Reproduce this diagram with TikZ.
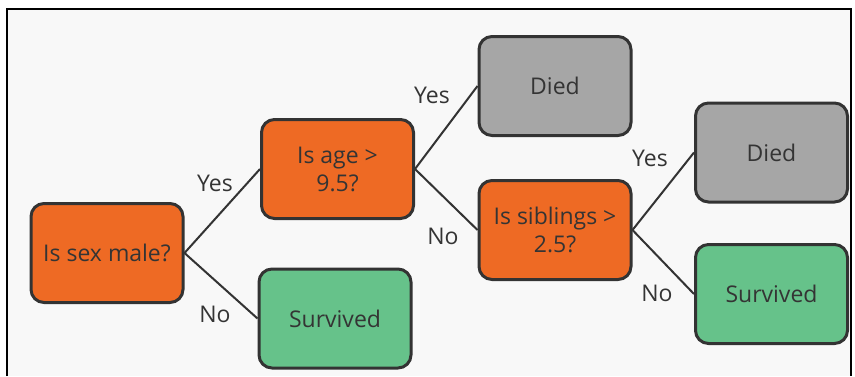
\documentclass[tikz,border=0pt]{standalone}
\usepackage{fontspec}
\setmainfont{Open Sans}
\usetikzlibrary{positioning}
\definecolor{qorange}{HTML}{EE6A24}
\definecolor{qgreen}{HTML}{66C28A}
\definecolor{qgray}{HTML}{A6A6A6}
\definecolor{qline}{HTML}{333333}
\definecolor{qtext}{HTML}{343434}
\definecolor{qback}{HTML}{F8F8F8}
\tikzset{
  box/.style={draw=qline,line width=3pt,rounded corners=13pt,minimum width=152pt,minimum height=99pt,
    align=center,text=qtext,font=\fontsize{23}{28}\selectfont,inner sep=2pt},
  question/.style={box,fill=qorange},
  died/.style={box,fill=qgray},
  survived/.style={box,fill=qgreen},
  answer/.style={text=qtext,font=\fontsize{23}{28}\selectfont,inner sep=0pt},
  branch/.style={draw=qline,line width=2pt}
}

\begin{document}
\begin{tikzpicture}[x=1pt,y=-1pt]
\useasboundingbox (0,0) rectangle (855,376);
\fill[qback] (7,9) rectangle (851,376);
\draw[line width=2pt] (7,376) -- (7,9) -- (851,9) -- (851,376);
\node[question] (Sex) at (107,253) {Is sex male?};
\node[question] (Age) at (337.5,169) {Is age >\\9.5?};
\node[survived] (Survived1) at (335,318.5) {Survived};
\node[died] (Died1) at (555,86) {Died};
\node[question] (Siblings) at (555,230) {Is siblings >\\2.5?};
\node[died] (Died2) at (771.5,152.5) {Died};
\node[survived] (Survived2) at (771.5,294) {Survived};
\draw[branch] (Sex.east) -- (Age.west);
\draw[branch] (Sex.east) -- (Survived1.west);
\draw[branch] (Age.east) -- (Died1.west);
\draw[branch] (Age.east) -- (Siblings.west);
\draw[branch] (Siblings.east) -- (Died2.west);
\draw[branch] (Siblings.east) -- (Survived2.west);
\node[answer] (Yes1) at (215,183) {Yes};
\node[answer] (No1) at (215,314) {No};
\node[answer] (Yes2) at (432,95) {Yes};
\node[answer] (No2) at (443,236) {No};
\node[answer] (Yes3) at (650,158) {Yes};
\node[answer] (No3) at (657,293) {No};
\end{tikzpicture}
\end{document}
